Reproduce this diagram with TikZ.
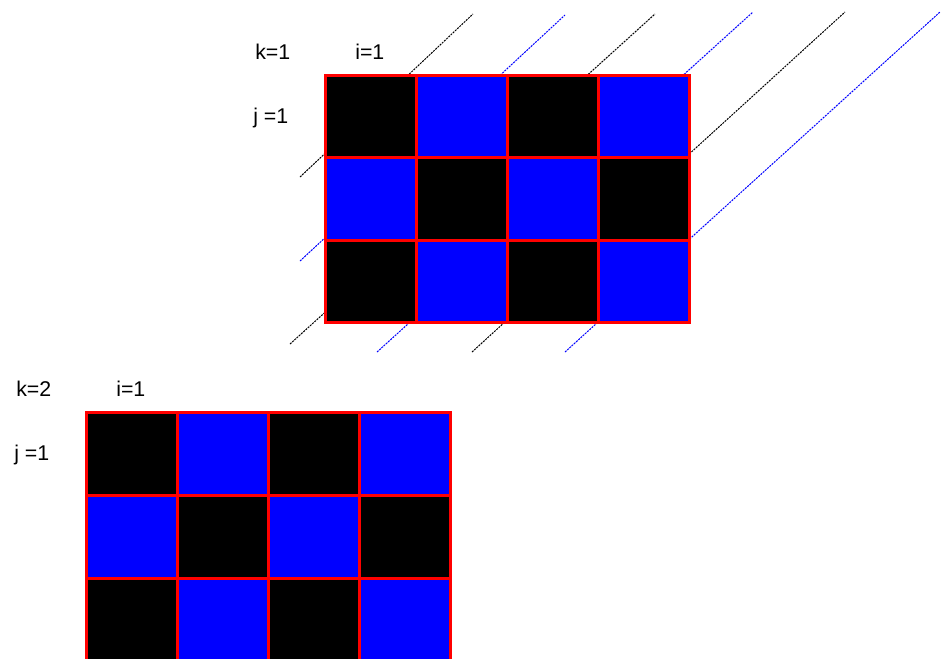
\documentclass[tikz,border=0pt]{standalone}
\usepackage{fontspec}
\setmainfont{Liberation Sans}
\usetikzlibrary{calc}

\colorlet{cell0}{black}
\colorlet{cell1}{blue}

\begin{document}
\begin{tikzpicture}[x=0.75pt,y=-0.75pt,
  cell/.style={draw=red,line width=2.25pt},
  diag/.style={line width=0.75pt,dash pattern=on 1.5pt off 0.75pt},
  lbl/.style={anchor=base west,inner sep=0pt,font=\fontsize{16}{19}\selectfont}]
\useasboundingbox (0,0) rectangle (942,658);
\clip (0,0) rectangle (942,658);

\coordinate (diag_1_a) at (300,177);
\coordinate (diag_1_b) at (473,14);
\coordinate (diag_2_a) at (300,261);
\coordinate (diag_2_b) at (565,15);
\coordinate (diag_3_a) at (290,344);
\coordinate (diag_3_b) at (655,14);
\coordinate (diag_4_a) at (377,352);
\coordinate (diag_4_b) at (753,12);
\coordinate (diag_5_a) at (472,352);
\coordinate (diag_5_b) at (845,12);
\coordinate (diag_6_a) at (565,352);
\coordinate (diag_6_b) at (940,12);

\draw[diag,black](diag_1_a) -- (diag_1_b);
\draw[diag,blue](diag_2_a) -- (diag_2_b);
\draw[diag,black](diag_3_a) -- (diag_3_b);
\draw[diag,blue](diag_4_a) -- (diag_4_b);
\draw[diag,black](diag_5_a) -- (diag_5_b);
\draw[diag,blue](diag_6_a) -- (diag_6_b);

\foreach \ox/\oy/\h/\k in {325/75/82.5/1, 86/412/83/2} {
  \foreach \c in {0,...,3}
    \foreach \r in {0,1,2} {
      \pgfmathtruncatemacro\s{mod(\c+\r,2)}
      \filldraw[cell,fill=cell\s] (\ox+\c*91,\oy+\r*\h) rectangle ++(91,\h);
    }
  \node[lbl,name=k_label_\k] at (\ox-70,\oy-16) {k=\k};
  \node[lbl,name=i_label_\k] at (\ox+30,\oy-16) {i=1};
  \node[lbl,name=j_label_\k] at (\ox-72,\oy+48) {j =1};
}

\end{tikzpicture}
\end{document}
